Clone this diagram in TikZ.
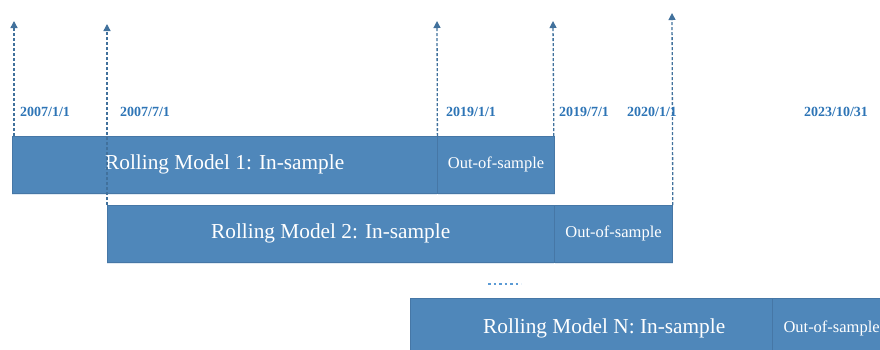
\documentclass[tikz,border=0pt]{standalone}
\usepackage{fontspec}
\setmainfont{Liberation Serif}
\usetikzlibrary{positioning, arrows.meta, shadows}
\definecolor{boxblue}{HTML}{4F87BA}
\definecolor{boxedge}{HTML}{4677A6}
\definecolor{arrowblue}{HTML}{41719C}
\definecolor{dateblue}{HTML}{2E75B6}
\definecolor{dotblue}{HTML}{5B9BD5}

\begin{document}
\begin{tikzpicture}[x=1pt,y=-1pt,
  inbox/.style={draw=boxedge, fill=boxblue, text=white, inner sep=0pt,
    anchor=north west, font=\fontsize{21.3}{24}\selectfont,
    drop shadow={opacity=0.25, shadow xshift=0pt, shadow yshift=-2pt, fill=boxblue!70}},
  outbox/.style={draw=boxedge, fill=boxblue, text=white, inner sep=0pt,
    font=\fontsize{16.5}{19}\selectfont,
    drop shadow={opacity=0.25, shadow xshift=0pt, shadow yshift=-2pt, fill=boxblue!70}},
  datelbl/.style={text=dateblue, anchor=west, inner sep=0pt,
    font=\bfseries\fontsize{14}{16}\selectfont},
  datearrow/.style={arrowblue, densely dashed, line width=1.3pt,
    -{Triangle[length=7pt, width=7pt]}}]
\useasboundingbox (0,0) rectangle (880,349);
\clip (0,0) rectangle (880,349);

% windows: in-sample part, then out-of-sample part
\node[inbox, minimum width=425pt, minimum height=57pt] (ins1) at (12,136) {Rolling Model 1: In-sample};
\node[outbox, minimum width=117pt, minimum height=57pt, right=0pt of ins1] (oos1) {Out-of-sample};

\node[inbox, minimum width=447pt, minimum height=57pt] (ins2) at (107,205) {Rolling Model 2: In-sample};
\node[outbox, minimum width=118pt, minimum height=57pt, right=0pt of ins2] (oos2) {Out-of-sample};

\node[inbox, minimum width=388pt, minimum height=60pt] (insN) at (410,298) {Rolling Model N: In-sample};
\node[outbox, minimum width=118pt, minimum height=60pt, right=-26pt of insN] (oosN) {Out-of-sample};

% dots between model 2 and model N
\coordinate (dotsL) at (488,284);
\coordinate (dotsR) at (521,284);
\draw[dotblue, line width=2.5pt, dash pattern=on 2.5pt off 3pt] (dotsL) -- (dotsR);

% date markers
\coordinate (tip1) at (14,21);
\coordinate (tip2) at (107,24);
\coordinate (tip3) at (437,21);
\coordinate (tip4) at (553,21);
\coordinate (tip5) at (672,13);
\draw[datearrow] ([xshift=2pt]ins1.north west) -- (tip1);
\draw[datearrow] (ins2.north west) -- (tip2);
\draw[datearrow] (oos1.north west) -- (tip3);
\draw[datearrow] ([xshift=-1pt]oos1.north east) -- (tip4);
\draw[datearrow] (oos2.north east) -- (tip5);

\foreach \x/\d [count=\i] in {20/{2007/1/1}, 120/{2007/7/1}, 446/{2019/1/1},
    559/{2019/7/1}, 627/{2020/1/1}, 804/{2023/10/31}}
  \node[datelbl] (date\i) at (\x,112) {\d};
\end{tikzpicture}
\end{document}
